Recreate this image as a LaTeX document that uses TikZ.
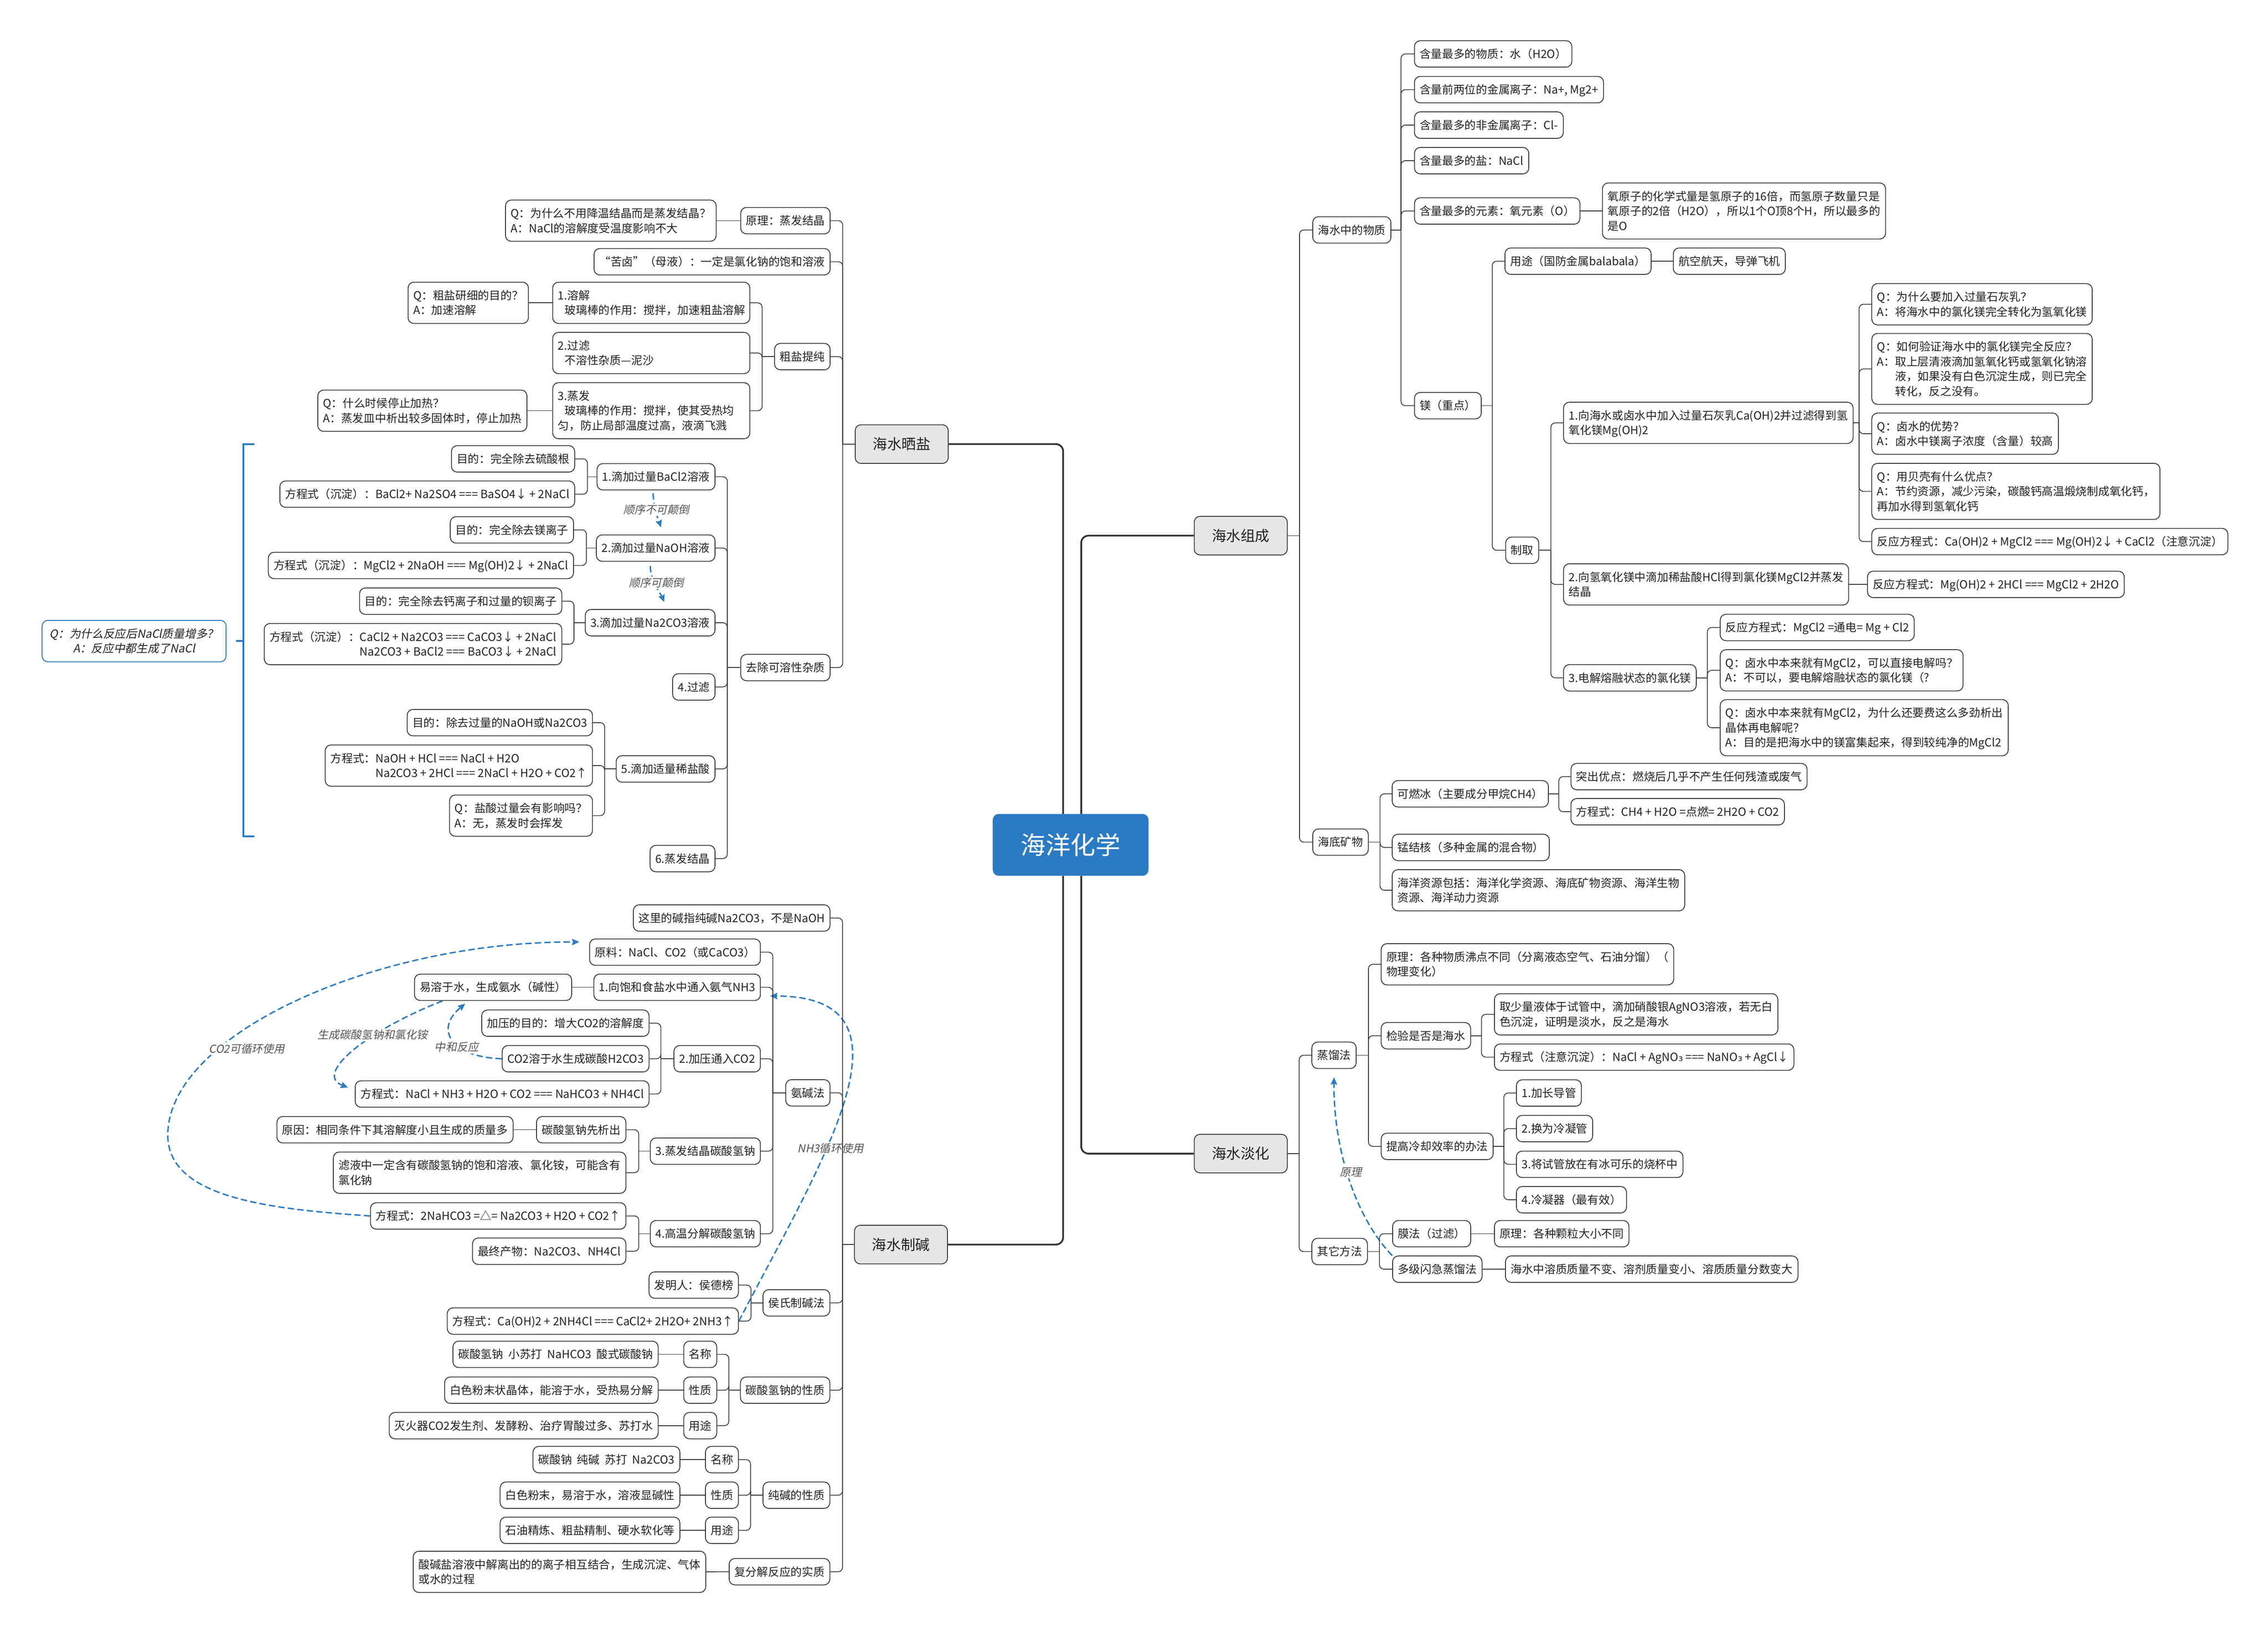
\documentclass[tikz,border=0pt]{standalone}
\usepackage{fontspec}
\setmainfont{Noto Sans CJK SC}
\newfontfamily\slnt[FakeSlant=0.2]{Noto Sans CJK SC}
\newfontfamily\djv{DejaVu Sans}
\usetikzlibrary{arrows.meta,calc}
\definecolor{ink}{HTML}{333333}
\definecolor{txt}{HTML}{222222}
\definecolor{blu}{HTML}{2B7BC4}
\definecolor{tgray}{HTML}{E6E6E6}
\definecolor{lgray}{HTML}{555555}
\pgfdeclarelayer{rel}
\pgfdeclarelayer{lines}
\pgfsetlayers{rel,lines,main}
\newcommand\leaffont{\fontsize{11.1}{14.6}\selectfont}
\newcommand\lblfont{\slnt\fontsize{10.8}{13}\selectfont}
\newcommand\lfs{\rule[-3.1pt]{0pt}{14.6pt}}
\newcommand\lfnl{\\\lfs}
\newcommand\subthree{{\djv ₃}}
\newcommand\lfn[4]{\node[lf,anchor=#2] (#1) at (#3) {\lfs #4};}
\newcommand\brR[3]{%
  \draw[conn] (#1.east) -- (#1.east -| #2);
  \foreach \ch in {#3}{\draw[conn,rounded corners=1.5mm] (#1.east -| #2) |- (\ch.west);}}
\newcommand\brL[3]{%
  \draw[conn] (#1.west) -- (#1.west -| #2);
  \foreach \ch in {#3}{\draw[conn,rounded corners=1.5mm] (#1.west -| #2) |- (\ch.east);}}
\newcommand\stR[2]{\draw[conn] (#1.east) -- (#2.west);}
\newcommand\stL[2]{\draw[conn] (#1.west) -- (#2.east);}
\begin{document}
\begin{tikzpicture}[x=0.5mm,y=-0.5mm,
  lf/.style={draw=ink, line width=0.8pt, rounded corners=2mm, fill=white, text=txt,
    inner xsep=1.8mm, inner ysep=2mm, font=\leaffont, align=left},
  topic/.style={fill=tgray, draw=ink, line width=0.8pt, rounded corners=2mm,
    minimum width=32.15mm, minimum height=13.35mm, text=txt,
    font=\fontsize{14.2}{17}\selectfont, inner sep=0pt},
  root/.style={fill=blu, draw=blu, rounded corners=2mm, minimum width=53.7mm,
    minimum height=21.25mm, text=white, font=\fontsize{24.5}{28}\selectfont, inner sep=0pt},
  bqs/.style={draw=blu, line width=0.9pt, rounded corners=2mm, fill=white, align=center,
    font=\slnt\fontsize{11.1}{14.6}\selectfont, text=txt, minimum width=63.6mm,
    minimum height=14.35mm, inner sep=1mm},
  conn/.style={draw=ink, line width=0.75pt},
  mainc/.style={draw=ink, line width=1.7pt, rounded corners=2.5mm},
  brk/.style={draw=blu, line width=1.8pt},
  rel/.style={draw=blu, line width=1.4pt, dash pattern=on 2.2mm off 1.1mm,
    -{Stealth[length=2.5mm,width=2.2mm,inset=0.3mm]}},
  lbl/.style={font=\lblfont, text=lgray, fill=white, inner sep=1.2pt}]
\useasboundingbox (0,0) rectangle (1568,1129.1);
% trunk x positions
\coordinate (CL) at (735,0);
\coordinate (CR) at (747.5,0);
\coordinate (Tzc) at (898.4,0);
\coordinate (Twz) at (968.6,0);
\coordinate (Tmg) at (1031.7,0);
\coordinate (Tzq) at (1072.2,0);
\coordinate (Ts1) at (1285.3,0);
\coordinate (Ts3) at (1180.4,0);
\coordinate (Tkw) at (954.1,0);
\coordinate (Tk1) at (1077.7,0);
\coordinate (Tdh) at (898.2,0);
\coordinate (Tzl) at (946.1,0);
\coordinate (Td2) at (1024.2,0);
\coordinate (Td3) at (1039.7,0);
\coordinate (Tqt) at (953.7,0);
\coordinate (Tsy) at (582.6,0);
\coordinate (Tcy) at (526.9,0);
\coordinate (Tqc) at (502.8,0);
\coordinate (Tr1) at (406.1,0);
\coordinate (Tr2) at (405.4,0);
\coordinate (Tr3) at (396.8,0);
\coordinate (Tr5) at (418,0);
\coordinate (Tzj) at (582.5,0);
\coordinate (Taj) at (534.3,0);
\coordinate (Ta2) at (456.9,0);
\coordinate (Ta3) at (441.6,0);
\coordinate (Ta4) at (441.6,0);
\coordinate (Ths) at (519.2,0);
\coordinate (Ttq) at (503.9,0);
\coordinate (Tcj) at (518.9,0);

% main nodes
\node[root] (ctr) at (740.2,584.2) {海洋化学};
\node[topic] (zc) at (857.8,370.4) {海水组成};
\node[topic] (dh) at (857.8,797.7) {海水淡化};
\node[topic] (sy) at (623.4,307.1) {海水晒盐};
\node[topic] (zj) at (622.9,860.6) {海水制碱};

% 海水组成
\lfn{wz}{west}{907.3,159}{海水中的物质}
\lfn{kw}{west}{907.3,582.3}{海底矿物}
\lfn{w1}{west}{977.6,37.3}{含量最多的物质：水（H2O）}
\lfn{w2}{west}{977.6,62}{含量前两位的金属离子：Na+, Mg2+}
\lfn{w3}{west}{977.6,86.5}{含量最多的非金属离子：Cl-}
\lfn{w4}{west}{977.6,111.1}{含量最多的盐：NaCl}
\lfn{w5}{west}{977.6,145.9}{含量最多的元素：氧元素（O）}
\lfn{w5a}{west}{1107.6,145.9}{氧原子的化学式量是氢原子的16倍，而氢原子数量只是\lfnl 氧原子的2倍（H2O），所以1个O顶8个H，所以最多的\lfnl 是O}
\lfn{mg}{west}{977.6,280.5}{镁（重点）}
\lfn{yt}{west}{1040.2,180.6}{用途（国防金属balabala）}
\lfn{yta}{west}{1156.6,180.6}{航空航天，导弹飞机}
\lfn{zq}{west}{1040.7,380.5}{制取}
\lfn{s1}{west}{1080.7,292.4}{1.向海水或卤水中加入过量石灰乳Ca(OH)2并过滤得到氢\lfnl 氧化镁Mg(OH)2}
\lfn{q1}{west}{1293.8,210.4}{Q：为什么要加入过量石灰乳？\lfnl A：将海水中的氯化镁完全转化为氢氧化镁}
\lfn{q2}{west}{1293.8,255.1}{Q：如何验证海水中的氯化镁完全反应？\lfnl A：取上层清液滴加氢氧化钙或氢氧化钠溶\lfnl\phantom{A：}液，如果没有白色沉淀生成，则已完全\lfnl\phantom{A：}转化，反之没有。}
\lfn{q3}{west}{1293.8,299.9}{Q：卤水的优势？\lfnl A：卤水中镁离子浓度（含量）较高}
\lfn{q4}{west}{1293.8,339.8}{Q：用贝壳有什么优点？\lfnl A：节约资源，减少污染，碳酸钙高温煅烧制成氧化钙，\lfnl 再加水得到氢氧化钙}
\lfn{q5}{west}{1293.8,374.5}{反应方程式：Ca(OH)2 + MgCl2 === Mg(OH)2↓ + CaCl2（注意沉淀）}
\lfn{s2}{west}{1080.7,404.1}{2.向氢氧化镁中滴加稀盐酸HCl得到氯化镁MgCl2并蒸发\lfnl 结晶}
\lfn{s2a}{west}{1290.8,404.1}{反应方程式：Mg(OH)2 + 2HCl === MgCl2 + 2H2O}
\lfn{s3}{west}{1080.7,468.7}{3.电解熔融状态的氯化镁}
\lfn{e1}{west}{1189,433.9}{反应方程式：MgCl2 =通电= Mg + Cl2}
\lfn{e2}{west}{1189,463.5}{Q：卤水中本来就有MgCl2，可以直接电解吗？\lfnl A：不可以，要电解熔融状态的氯化镁（?}
\lfn{e3}{west}{1189,503.2}{Q：卤水中本来就有MgCl2，为什么还要费这么多劲析出\lfnl 晶体再电解呢？\lfnl A：目的是把海水中的镁富集起来，得到较纯净的MgCl2}
\lfn{k1}{west}{962.2,548.9}{可燃冰（主要成分甲烷CH4）}
\lfn{k1a}{west}{1085.8,537}{突出优点：燃烧后几乎不产生任何残渣或废气}
\lfn{k1b}{west}{1085.8,561.3}{方程式：CH4 + H2O =点燃= 2H2O + CO2}
\lfn{k2}{west}{962.2,586}{锰结核（多种金属的混合物）}
\lfn{k3}{west}{962.2,615.6}{海洋资源包括：海洋化学资源、海底矿物资源、海洋生物\lfnl 资源、海洋动力资源}

% 海水淡化
\lfn{zl}{west}{906.7,729.7}{蒸馏法}
\lfn{qt}{west}{906.7,865.4}{其它方法}
\lfn{d1}{west}{954.6,666.8}{原理：各种物质沸点不同（分离液态空气、石油分馏）（\lfnl 物理变化）}
\lfn{d2}{west}{954.6,716.2}{检验是否是海水}
\lfn{d2a}{west}{1032.9,701.4}{取少量液体于试管中，滴加硝酸银AgNO3溶液，若无白\lfnl 色沉淀，证明是淡水，反之是海水}
\lfn{d2b}{west}{1032.9,731}{方程式（注意沉淀）：NaCl + AgNO\subthree{} === NaNO\subthree{} + AgCl↓}
\lfn{d3}{west}{954.6,792.7}{提高冷却效率的办法}
\lfn{d3a}{west}{1048.1,755.8}{1.加长导管}
\lfn{d3b}{west}{1048.1,780.4}{2.换为冷凝管}
\lfn{d3c}{west}{1048.1,805.1}{3.将试管放在有冰可乐的烧杯中}
\lfn{d3d}{west}{1048.1,829.6}{4.冷凝器（最有效）}
\lfn{m1}{west}{962.5,853.1}{膜法（过滤）}
\lfn{m1a}{west}{1032.9,853.1}{原理：各种颗粒大小不同}
\lfn{m2}{west}{962.5,877.6}{多级闪急蒸馏法}
\lfn{m2a}{west}{1040.5,877.6}{海水中溶质质量不变、溶剂质量变小、溶质质量分数变大}

% 海水晒盐
\lfn{yl1}{east}{574.2,152.6}{原理：蒸发结晶}
\lfn{q0}{east}{495.4,152.6}{Q：为什么不用降温结晶而是蒸发结晶？\lfnl A：NaCl的溶解度受温度影响不大}
\lfn{kl}{east}{574.2,181}{“苦卤”（母液）：一定是氯化钠的饱和溶液}
\lfn{cyt}{east}{574.2,246.6}{粗盐提纯}
\node[lf,anchor=east,text width=64.55mm] (c1) at (518.7,209.4) {\lfs 1.溶解\lfnl\hspace*{0.6em}玻璃棒的作用：搅拌，加速粗盐溶解};
\lfn{qa}{east}{365.6,209.4}{Q：粗盐研细的目的？\lfnl A：加速溶解}
\node[lf,anchor=east,text width=64.55mm] (c2) at (518.7,244.1) {\lfs 2.过滤\lfnl\hspace*{0.6em}不溶性杂质—泥沙};
\node[lf,anchor=east,text width=64.55mm] (c3) at (518.7,284) {\lfs 3.蒸发\lfnl\hspace*{0.6em}玻璃棒的作用：搅拌，使其受热均\lfnl 匀，防止局部温度过高，液滴飞溅};
\lfn{qb}{east}{364.6,284}{Q：什么时候停止加热？\lfnl A：蒸发皿中析出较多固体时，停止加热}
\lfn{qc}{east}{574.2,461.6}{去除可溶性杂质}
\lfn{r1}{east}{494.6,329.7}{1.滴加过量BaCl2溶液}
\lfn{r1a}{east}{397.6,317.3}{目的：完全除去硫酸根}
\lfn{r1b}{east}{397.6,341.7}{方程式（沉淀）：BaCl2+ Na2SO4 === BaSO4↓ + 2NaCl}
\lfn{r2}{east}{494.6,379}{2.滴加过量NaOH溶液}
\lfn{r2a}{east}{396.8,366.4}{目的：完全除去镁离子}
\lfn{r2b}{east}{396.8,391}{方程式（沉淀）：MgCl2 + 2NaOH === Mg(OH)2↓ + 2NaCl}
\lfn{r3}{east}{494.6,430.6}{3.滴加过量Na2CO3溶液}
\lfn{r3a}{east}{388.7,415.7}{目的：完全除去钙离子和过量的钡离子}
\lfn{r3b}{east}{388.7,445.4}{方程式（沉淀）：CaCl2 + Na2CO3 === CaCO3↓ + 2NaCl\lfnl\phantom{方程式（沉淀）：}Na2CO3 + BaCl2 === BaCO3↓ + 2NaCl}
\lfn{r4}{east}{494.6,475}{4.过滤}
\lfn{r5}{east}{494.6,531.7}{5.滴加适量稀盐酸}
\lfn{r5a}{east}{409.9,499.7}{目的：除去过量的NaOH或Na2CO3}
\lfn{r5b}{east}{409.9,529.4}{方程式：NaOH + HCl === NaCl + H2O\lfnl\phantom{方程式：}Na2CO3 + 2HCl === 2NaCl + H2O + CO2↑}
\lfn{r5c}{east}{409.9,564}{Q：盐酸过量会有影响吗？\lfnl A：无，蒸发时会挥发}
\lfn{r6}{east}{494.6,593.7}{6.蒸发结晶}
\node[bqs, anchor=west] (bq) at (28.8,443.3) {Q：为什么反应后NaCl质量增多？\\A：反应中都生成了NaCl};

% 海水制碱
\lfn{z0}{east}{574.1,634.8}{这里的碱指纯碱Na2CO3，不是NaOH}
\lfn{aj}{east}{574.1,755.7}{氨碱法}
\lfn{a0}{east}{526,658.4}{原料：NaCl、CO2（或CaCO3）}
\lfn{a1}{east}{526,682.7}{1.向饱和食盐水中通入氨气NH3}
\lfn{a1a}{east}{395.5,682.7}{易溶于水，生成氨水（碱性）}
\lfn{a2}{east}{526,732.1}{2.加压通入CO2}
\lfn{a2a}{east}{449,707.5}{加压的目的：增大CO2的溶解度}
\lfn{a2b}{east}{449,732.1}{CO2溶于水生成碳酸H2CO3}
\lfn{a2c}{east}{449,756.5}{方程式：NaCl + NH3 + H2O + CO2 === NaHCO3 + NH4Cl}
\lfn{a3}{east}{526,796}{3.蒸发结晶碳酸氢钠}
\lfn{a3a}{east}{433,781.2}{碳酸氢钠先析出}
\lfn{a3aa}{east}{355,781.2}{原因：相同条件下其溶解度小且生成的质量多}
\lfn{a3b}{east}{433,810.9}{滤液中一定含有碳酸氢钠的饱和溶液、氯化铵，可能含有\lfnl 氯化钠}
\lfn{a4}{east}{526,853.1}{4.高温分解碳酸氢钠}
\lfn{a4a}{east}{433,840.8}{方程式：2NaHCO3 =△= Na2CO3 + H2O + CO2↑}
\lfn{a4b}{east}{433,865.2}{最终产物：Na2CO3、NH4Cl}
\lfn{hs}{east}{574,900.9}{侯氏制碱法}
\lfn{hs1}{east}{510.8,888.6}{发明人：侯德榜}
\lfn{hs2}{east}{510.8,913.5}{方程式：Ca(OH)2 + 2NH4Cl === CaCl2+ 2H2O+ 2NH3↑}
\lfn{tq}{east}{574,961.3}{碳酸氢钠的性质}
\lfn{tq1}{east}{495.8,936.5}{名称}
\lfn{tq1a}{east}{455.3,936.5}{碳酸氢钠\ \ 小苏打\ \ NaHCO3\ \ 酸式碳酸钠}
\lfn{tq2}{east}{495.8,961.3}{性质}
\lfn{tq2a}{east}{455.3,961.3}{白色粉末状晶体，能溶于水，受热易分解}
\lfn{tq3}{east}{495.8,985.8}{用途}
\lfn{tq3a}{east}{455.3,985.8}{灭火器CO2发生剂、发酵粉、治疗胃酸过多、苏打水}
\lfn{cj}{east}{574,1033.9}{纯碱的性质}
\lfn{cj1}{east}{510.8,1009.3}{名称}
\lfn{cj1a}{east}{470.3,1009.3}{碳酸钠\ \ 纯碱\ \ 苏打\ \ Na2CO3}
\lfn{cj2}{east}{510.8,1033.9}{性质}
\lfn{cj2a}{east}{470.3,1033.9}{白色粉末，易溶于水，溶液显碱性}
\lfn{cj3}{east}{510.8,1058.2}{用途}
\lfn{cj3a}{east}{470.3,1058.2}{石油精炼、粗盐精制、硬水软化等}
\lfn{ff}{east}{574,1086.8}{复分解反应的实质}
\lfn{ff1}{east}{488.2,1086.9}{酸碱盐溶液中解离出的的离子相互结合，生成沉淀、气体\lfnl 或水的过程}

% tree connectors
\begin{pgfonlayer}{lines}
\draw[mainc] (ctr.north -| CL) |- (sy.east);
\draw[mainc] (ctr.north -| CR) |- (zc.west);
\draw[mainc] (ctr.south -| CL) |- (zj.east);
\draw[mainc] (ctr.south -| CR) |- (dh.west);
\brR{zc}{Tzc}{wz,kw}
\brR{wz}{Twz}{w1,w2,w3,w4,w5,mg}
\stR{w5}{w5a}
\brR{mg}{Tmg}{yt,zq}
\stR{yt}{yta}
\brR{zq}{Tzq}{s1,s2,s3}
\brR{s1}{Ts1}{q1,q2,q3,q4,q5}
\stR{s2}{s2a}
\brR{s3}{Ts3}{e1,e2,e3}
\brR{kw}{Tkw}{k1,k2,k3}
\brR{k1}{Tk1}{k1a,k1b}
\brR{dh}{Tdh}{zl,qt}
\brR{zl}{Tzl}{d1,d2,d3}
\brR{d2}{Td2}{d2a,d2b}
\brR{d3}{Td3}{d3a,d3b,d3c,d3d}
\brR{qt}{Tqt}{m1,m2}
\stR{m1}{m1a}
\stR{m2}{m2a}
\brL{sy}{Tsy}{yl1,kl,cyt,qc}
\stL{yl1}{q0}
\brL{cyt}{Tcy}{c1,c2,c3}
\stL{c1}{qa}
\stL{c3}{qb}
\brL{qc}{Tqc}{r1,r2,r3,r4,r5,r6}
\brL{r1}{Tr1}{r1a,r1b}
\brL{r2}{Tr2}{r2a,r2b}
\brL{r3}{Tr3}{r3a,r3b}
\brL{r5}{Tr5}{r5a,r5b,r5c}
\brL{zj}{Tzj}{z0,aj,hs,tq,cj,ff}
\brL{aj}{Taj}{a0,a1,a2,a3,a4}
\stL{a1}{a1a}
\brL{a2}{Ta2}{a2a,a2b,a2c}
\brL{a3}{Ta3}{a3a,a3b}
\stL{a3a}{a3aa}
\brL{a4}{Ta4}{a4a,a4b}
\brL{hs}{Ths}{hs1,hs2}
\brL{tq}{Ttq}{tq1,tq2,tq3}
\stL{tq1}{tq1a}
\stL{tq2}{tq2a}
\stL{tq3}{tq3a}
\brL{cj}{Tcj}{cj1,cj2,cj3}
\stL{cj1}{cj1a}
\stL{cj2}{cj2a}
\stL{cj3}{cj3a}
\stL{ff}{ff1}
% summary bracket
\draw[brk] (175.7,307.2) -- (168.2,307.2) -- (168.2,578.4) -- (175.7,578.4);
\draw[brk] (168.2,443.3) -- ($(bq.east)+(6.5,0)$);
\end{pgfonlayer}

% relationships
\begin{pgfonlayer}{rel}
\fill[white] (0,0) rectangle (1568,1129.1);
\draw[rel, shorten >=2.9mm] (m2.north west) .. controls (940,845) and (922,800) .. (zl.south);
\node[lbl] (l1) at (934,810.5) {原理};
\draw[rel, shorten >=3.4mm] (a4a.west) .. controls (185,836) and (116,828) .. (116,785) .. controls (116,715) and (260,651) .. ($(a0.west)+(0,-7)$);
\node[lbl] (l2) at (170.6,725.2) {CO2可循环使用};
\draw[rel, shorten >=2mm] ($(a1a.south)+(-35,0)$) .. controls (255,712) and ($(a2c.west)+(-29,-14)$) .. ($(a2c.west)+(-1,-3)$);
\node[lbl] (l3) at (257.6,715.6) {生成碳酸氢钠和氯化铵};
\draw[rel, shorten >=1.5mm] (a2b.west) .. controls (312,731) and (300,712) .. ($(a1a.south)+(-17,0)$);
\node[lbl] (l4) at (315.7,724.1) {中和反应};
\draw[rel, shorten >=3.2mm] (hs2.east) .. controls (570,800) and (640,689) .. ($(a1.east)+(0,6)$);
\node[lbl] (l5) at (574.2,794) {NH3循环使用};
\draw[rel, shorten >=2.6mm] ($(r1.south east)+(-43,2)$) .. controls ($(r1.south east)+(-43,12)$) and ($(r2.north east)+(-39,-9)$) .. ($(r2.north east)+(-36,0)$);
\node[lbl] (l6) at (453.7,352.5) {顺序不可颠倒};
\draw[rel, shorten >=2.6mm] ($(r2.south east)+(-45,3)$) .. controls ($(r2.south east)+(-45,13)$) and ($(r3.north east)+(-37,-9)$) .. ($(r3.north east)+(-33.6,0)$);
\node[lbl] (l7) at (453.7,403) {顺序可颠倒};
\end{pgfonlayer}
\end{tikzpicture}
\end{document}
